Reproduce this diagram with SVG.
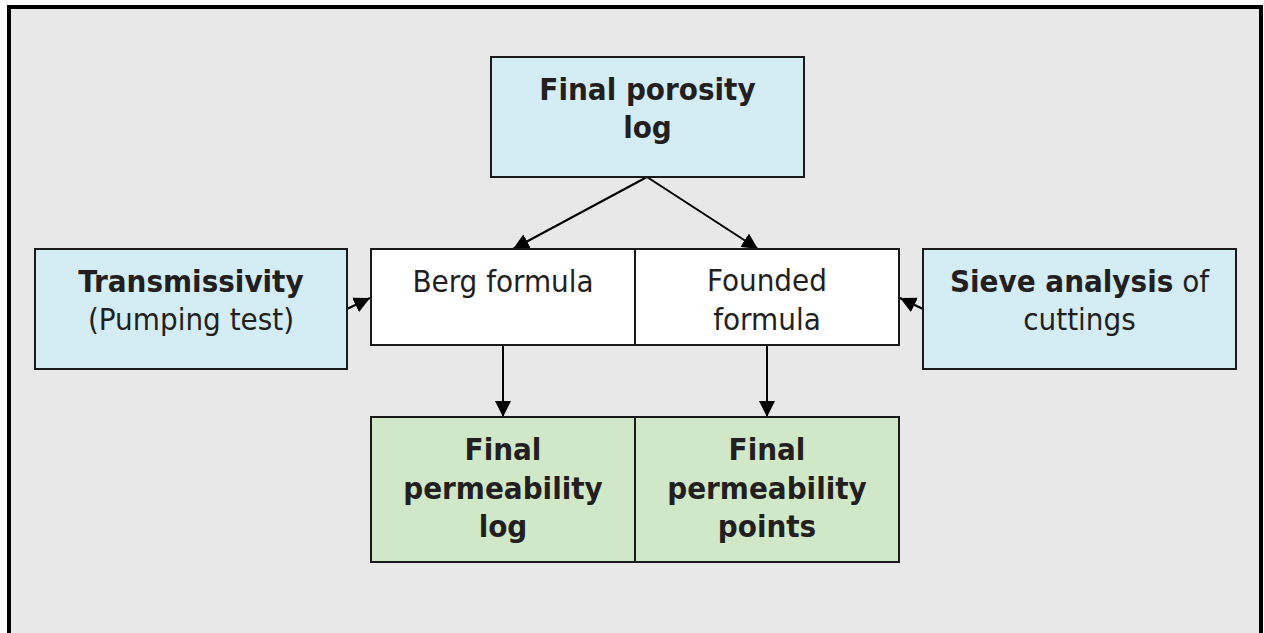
<svg xmlns="http://www.w3.org/2000/svg" width="1264" height="633" viewBox="0 0 1264 633">
<style>
text{font-family:"DejaVu Sans Condensed","DejaVu Sans",sans-serif;font-size:31px;fill:#231f20;text-anchor:middle}
.b{font-weight:bold}
.box{stroke:#1a1a1a;stroke-width:2}
.blue{fill:#d4ecf4}
.green{fill:#d0e8c8}
.white{fill:#ffffff}
.con{stroke:#000;stroke-width:2;fill:none;marker-end:url(#ah)}
</style>
<defs>
<marker id="ah" viewBox="0 0 10 10" refX="10" refY="5" markerWidth="16" markerHeight="16" markerUnits="userSpaceOnUse" orient="auto">
<path d="M0,0 L10,5 L0,10 z" fill="#000"/>
</marker>
</defs>
<rect x="9" y="7" width="1252" height="640" fill="#e8e8e8" stroke="#000" stroke-width="4"/>
<g id="connectors">
<line class="con" x1="647" y1="177" x2="513" y2="249"/>
<line class="con" x1="647" y1="177" x2="758" y2="249"/>
<line class="con" x1="347" y1="309" x2="370" y2="298"/>
<line class="con" x1="923" y1="309" x2="900" y2="298"/>
<line class="con" x1="503" y1="345" x2="503" y2="417"/>
<line class="con" x1="767" y1="345" x2="767" y2="417"/>
</g>
<g id="porosity">
<rect class="box blue" x="491" y="57" width="313" height="120"/>
<text class="b" x="647.5" y="100">Final porosity</text>
<text class="b" x="647.5" y="138">log</text>
</g>
<g id="transmissivity">
<rect class="box blue" x="35" y="249" width="312" height="120"/>
<text class="b" x="191" y="292">Transmissivity</text>
<text x="191" y="330">(Pumping test)</text>
</g>
<g id="berg">
<rect class="box white" x="371" y="249" width="264" height="96"/>
<text x="503" y="292">Berg formula</text>
</g>
<g id="founded">
<rect class="box white" x="635" y="249" width="264" height="96"/>
<text x="767" y="291">Founded</text>
<text x="767" y="330">formula</text>
</g>
<g id="sieve">
<rect class="box blue" x="923" y="249" width="313" height="120"/>
<text x="1079.5" y="292"><tspan class="b">Sieve analysis</tspan> of</text>
<text x="1079.5" y="330">cuttings</text>
</g>
<g id="permlog">
<rect class="box green" x="371" y="417" width="264" height="145"/>
<text class="b" x="503" y="460">Final</text>
<text class="b" x="503" y="499">permeability</text>
<text class="b" x="503" y="537">log</text>
</g>
<g id="permpoints">
<rect class="box green" x="635" y="417" width="264" height="145"/>
<text class="b" x="767" y="460">Final</text>
<text class="b" x="767" y="499">permeability</text>
<text class="b" x="767" y="537">points</text>
</g>
</svg>
